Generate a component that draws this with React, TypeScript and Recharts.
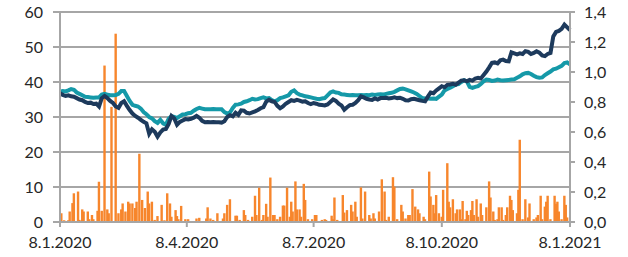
import React from 'react';
import { ComposedChart, Bar, Line, XAxis, YAxis, CartesianGrid } from 'recharts';

// days counted from 8.1.2020
const tickDays = [0, 91, 182, 274, 366];
const tickLabels = ['8.1.2020', '8.4.2020', '8.7.2020', '8.10.2020', '8.1.2021'];

// line values every 2nd day (day 0..366)
const navy = [
  36.8, 36.3, 36.0, 36.2, 35.9, 35.8, 35.4, 35.0, 34.8, 34.3,
  34.0, 34.1, 33.7, 33.8, 33.0, 35.4, 36.0, 35.4, 34.6, 34.0,
  33.0, 32.6, 34.0, 34.5, 33.2, 32.0, 31.0, 30.3, 29.8, 29.2,
  28.6, 28.2, 25.2, 26.5, 25.8, 24.4, 25.6, 26.4, 26.6, 28.0,
  30.3, 29.6, 27.8, 28.6, 29.0, 29.4, 29.3, 29.5, 29.8, 30.3,
  29.8, 28.9, 28.5, 28.6, 28.5, 28.6, 28.5, 28.5, 28.4, 28.8,
  30.0, 30.5, 30.2, 31.2, 30.6, 31.9, 31.8, 31.2, 31.0, 31.3,
  31.6, 32.0, 32.5, 32.8, 34.4, 34.9, 34.5, 34.3, 33.2, 32.5,
  33.0, 33.8, 34.3, 34.8, 34.6, 34.9, 34.7, 34.4, 34.5, 34.0,
  33.7, 34.0, 33.8, 33.5, 33.4, 33.3, 33.6, 34.3, 35.0, 34.6,
  33.8, 33.3, 32.1, 32.8, 33.4, 33.5, 34.0, 34.8, 35.9, 35.6,
  35.2, 35.0, 34.9, 35.3, 35.0, 35.4, 35.4, 35.5, 35.3, 35.4,
  35.6, 35.4, 35.5, 35.2, 34.8, 34.7, 35.1, 35.2, 35.0, 34.8,
  34.6, 34.5, 35.8, 37.0, 36.8, 37.6, 38.2, 38.8, 38.5, 39.2,
  39.3, 39.5, 39.2, 39.8, 40.4, 40.5, 40.2, 40.6, 40.4, 41.0,
  41.2, 41.0, 42.0, 43.0, 44.2, 45.5, 45.6, 45.3, 46.2, 46.4,
  46.0, 45.9, 48.5, 48.2, 47.9, 48.2, 48.0, 48.8, 48.6, 48.0,
  48.3, 48.8, 48.4, 47.6, 47.4, 48.0, 48.3, 53.0, 54.3, 54.6,
  55.2, 56.4, 55.6, 54.8,
];

const teal = [
  37.2, 37.4, 37.3, 37.6, 38.0, 37.8, 37.0, 36.6, 36.2, 35.8,
  35.7, 35.6, 35.5, 35.6, 35.6, 36.4, 36.6, 36.4, 36.2, 36.2,
  36.3, 36.6, 37.4, 37.4, 36.0, 34.6, 33.5, 33.2, 33.0, 32.4,
  31.4, 30.8, 30.0, 29.6, 28.8, 28.3, 29.2, 28.2, 27.8, 29.5,
  30.2, 30.0, 29.7, 30.2, 30.7, 30.8, 31.1, 31.2, 31.8, 32.3,
  32.6, 32.4, 32.2, 32.2, 32.2, 32.3, 32.2, 32.2, 32.2, 31.4,
  31.0, 31.3, 32.6, 33.5, 33.6, 33.8, 34.3, 34.5, 34.8, 35.2,
  35.0, 35.1, 35.4, 35.6, 35.3, 35.4, 34.8, 34.5, 34.8, 35.4,
  35.6, 35.9, 36.2, 37.2, 37.6, 36.8, 36.4, 36.2, 35.9, 35.8,
  35.6, 35.4, 35.2, 35.1, 35.3, 35.4, 36.2, 37.0, 37.3, 37.0,
  36.9, 36.5, 36.4, 36.3, 36.2, 36.3, 36.2, 36.2, 36.3, 36.2,
  36.3, 36.2, 36.4, 36.3, 36.4, 36.5, 36.4, 36.6, 36.8, 36.9,
  37.2, 37.6, 38.0, 38.1, 37.9, 37.6, 37.3, 37.0, 36.6, 36.0,
  35.4, 35.3, 35.3, 35.2, 35.3, 35.2, 35.8, 36.4, 37.6, 38.0,
  38.4, 38.8, 39.3, 39.4, 40.0, 40.5, 40.2, 38.6, 38.3, 38.6,
  38.8, 39.4, 40.2, 40.7, 40.6, 40.3, 40.4, 40.7, 40.5, 40.4,
  40.5, 40.6, 40.7, 40.8, 41.2, 41.6, 42.2, 42.5, 42.6, 42.3,
  41.8, 41.4, 41.2, 41.3, 42.0, 42.5, 43.0, 43.6, 43.8, 44.2,
  44.6, 45.4, 45.6, 45.0,
];

// orange bars: [day, value]
const bars: [number, number][] = [
  [1, 2.5], [3, 0.5], [6, 0.5], [7, 3], [9, 5.4], [10, 8.2], [13, 8.7], [14, 0.6], [16, 3.6], [17, 3],
  [20, 3], [21, 0.8], [23, 2], [24, 0.8], [27, 3.2], [28, 11.5], [30, 3.2], [32, 44.7], [34, 3.6], [35, 2.5],
  [37, 32.9], [40, 53.8], [42, 2.5], [44, 3.6], [45, 5.3], [47, 3], [49, 5.8], [50, 5.3], [52, 5.3], [54, 4],
  [55, 5.8], [57, 19.5], [59, 6.3], [61, 4], [63, 8.7], [64, 5.3], [66, 5.8], [68, 0.6], [70, 1.7], [73, 4.9],
  [75, 0.5], [77, 8.2], [79, 5.3], [80, 1.5], [83, 3.4], [84, 1.7], [85, 0.8], [87, 4.6], [90, 0.8], [92, 0.8],
  [98, 1], [100, 1.2], [105, 1], [106, 4.2], [108, 1], [110, 0.6], [113, 2.5], [117, 1], [118, 2.5], [120, 4.9],
  [122, 6.5], [126, 1.8], [127, 1.8], [129, 0.6], [132, 3.4], [133, 2], [135, 0.6], [138, 1.5], [140, 7.5], [141, 2],
  [143, 9.8], [145, 0.6], [146, 2], [148, 5.2], [149, 1.5], [151, 12.7], [153, 2], [154, 2], [156, 0.8], [158, 1.5],
  [160, 4.7], [161, 4.7], [163, 9.8], [165, 1.5], [166, 5.8], [167, 3], [169, 11.6], [170, 3.6], [172, 3.6], [173, 1.5],
  [175, 10.9], [176, 6.3], [178, 0.8], [181, 0.8], [183, 2], [184, 2], [188, 0.6], [190, 0.8], [191, 0.6], [195, 1.8],
  [196, 0.8], [197, 7], [199, 0.6], [203, 7.7], [204, 2.7], [206, 3.4], [209, 4.9], [210, 3], [212, 5.8], [213, 1.5],
  [216, 9.9], [217, 1], [219, 8.7], [222, 2], [223, 1], [225, 2.5], [226, 1], [229, 3], [231, 12.2], [233, 8.7],
  [234, 0.6], [236, 1.5], [239, 12.8], [240, 10.1], [242, 0.8], [245, 4.9], [246, 3], [248, 1], [250, 2], [251, 2],
  [253, 9.4], [255, 4.4], [257, 3.6], [258, 2.5], [261, 1.5], [262, 0.8], [265, 14.4], [266, 7.3], [268, 4.9], [269, 2.5],
  [270, 7.7], [272, 2.5], [274, 1.5], [275, 9.2], [278, 16.8], [279, 5.8], [280, 4.2], [282, 6.5], [284, 2.5], [285, 3.6],
  [287, 3.6], [288, 0.8], [289, 6], [291, 0.8], [292, 3.2], [293, 2], [295, 3.4], [296, 6], [297, 2], [299, 6.5],
  [300, 1.5], [302, 5.3], [303, 2], [306, 4.2], [308, 11.6], [309, 7], [311, 3], [312, 0.6], [314, 0.8], [315, 4.2],
  [317, 4.2], [318, 0.6], [320, 2], [321, 4.2], [323, 7.5], [324, 6.3], [325, 3.4], [328, 2.5], [329, 9.2], [330, 23.5],
  [332, 0.8], [334, 6.5], [336, 1.3], [337, 5.3], [340, 0.8], [342, 1.3], [343, 2], [345, 7.5], [346, 0.8], [348, 4.4],
  [349, 5.8], [350, 7.5], [352, 0.8], [355, 7.5], [356, 5.2], [357, 5.8], [358, 3], [360, 0.8], [362, 7.5], [363, 4.9],
  [364, 1.3],
];

const leftTicks = [0, 10, 20, 30, 40, 50, 60];
const rightTicks = [0, 0.2, 0.4, 0.6, 0.8, 1.0, 1.2, 1.4];

const byDay: Record<number, { day: number; navy?: number; teal?: number; bar?: number }> = {};
navy.forEach((v, i) => {
  byDay[i * 2] = { day: i * 2, navy: v, teal: teal[i] };
});
bars.forEach(([d, v]) => {
  byDay[d] = { ...(byDay[d] || { day: d }), bar: v };
});
const data = Object.values(byDay).sort((a, b) => a.day - b.day);

const axisColor = '#a6a6a6';
const tickStyle = { fill: '#262626', fontSize: 16, fontFamily: 'Lato, sans-serif' };

// thin bar drawn around the centre Recharts gives
const ThinBar = (p: any) => {
  if (!p.height || p.height <= 0) return null;
  const cx = p.x + p.width / 2;
  return <rect x={cx - 1.2} y={p.y} width={2.4} height={p.height} fill="#f7862c" />;
};

export default function App() {
  return (
    <div style={{ position: 'absolute', left: 0, top: 0, background: '#fff' }}>
      <ComposedChart width={628} height={257} data={data} margin={{ top: 12, right: 8, bottom: 5, left: 10 }}>
        <CartesianGrid yAxisId="left" vertical={false} stroke={axisColor} strokeWidth={2} />
        <XAxis
          dataKey="day"
          type="number"
          domain={[0, 366]}
          ticks={tickDays}
          tickFormatter={(d: number) => tickLabels[tickDays.indexOf(d)]}
          height={30}
          stroke={axisColor}
          strokeWidth={2}
          tickSize={5}
          tickMargin={10}
          tick={tickStyle}
          interval={0}
        />
        <YAxis
          yAxisId="left"
          domain={[0, 60]}
          ticks={leftTicks}
          width={50}
          stroke={axisColor}
          strokeWidth={2}
          tickSize={7}
          tickMargin={10}
          tick={tickStyle}
        />
        <YAxis
          yAxisId="right"
          orientation="right"
          domain={[0, 1.4]}
          ticks={rightTicks}
          width={50}
          stroke={axisColor}
          strokeWidth={2}
          tickSize={5}
          tickMargin={9}
          tick={{ ...tickStyle, textAnchor: 'start' }}
          tickFormatter={(v: number) => v.toFixed(1).replace('.', ',')}
          allowDataOverflow
        />
        <Bar yAxisId="left" dataKey="bar" fill="#f7862c" barSize={2} shape={ThinBar} isAnimationActive={false} />
        <Line
          yAxisId="left"
          dataKey="teal"
          stroke="#1599a8"
          strokeWidth={4}
          dot={false}
          connectNulls
          isAnimationActive={false}
        />
        <Line
          yAxisId="left"
          dataKey="navy"
          stroke="#1d3a5c"
          strokeWidth={4}
          dot={false}
          connectNulls
          isAnimationActive={false}
        />
      </ComposedChart>
    </div>
  );
}
